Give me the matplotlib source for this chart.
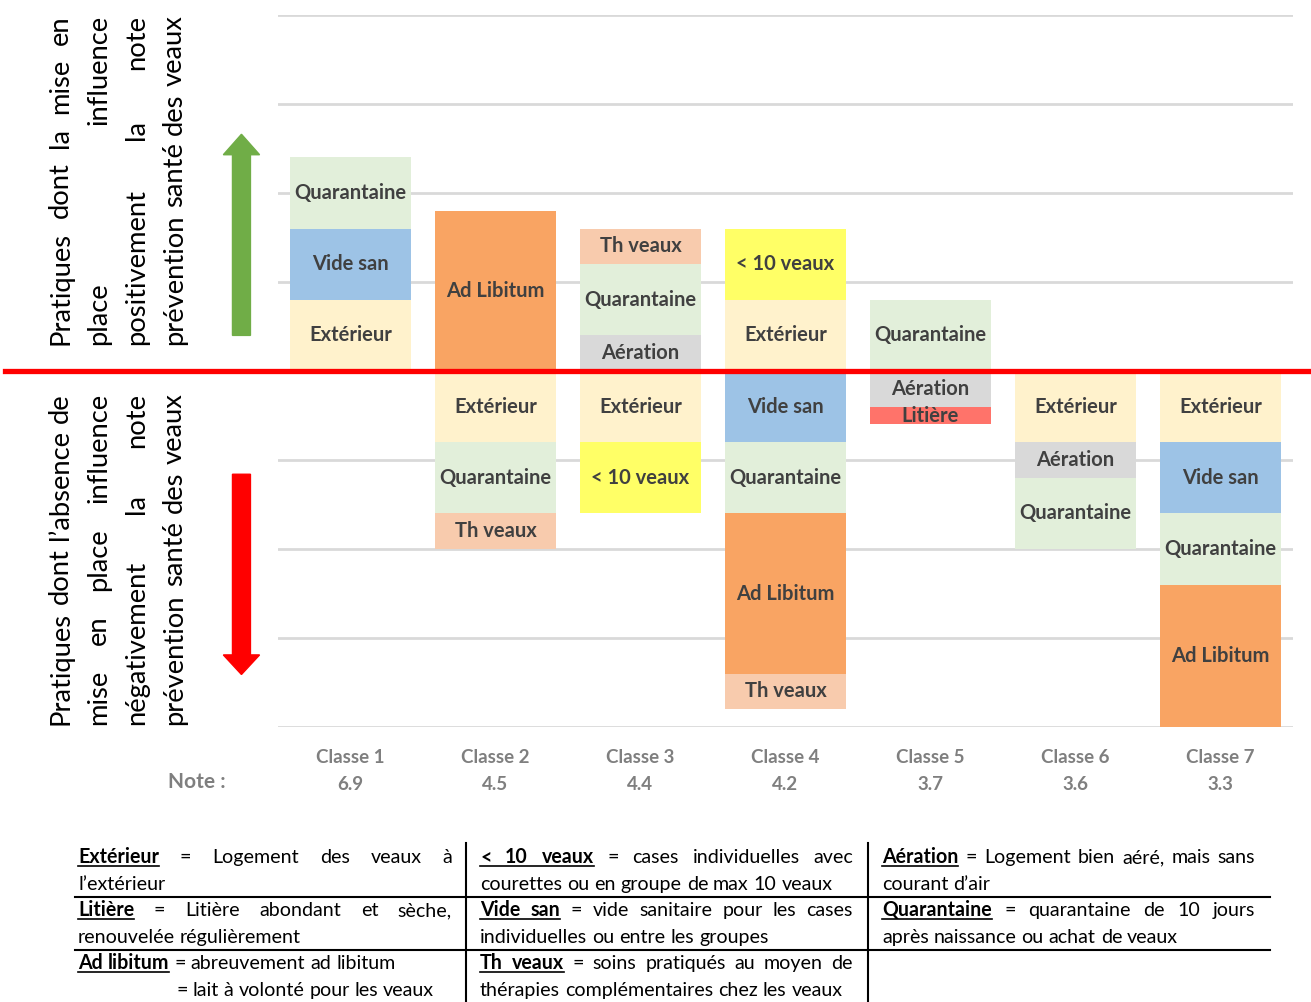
import matplotlib
matplotlib.use('Agg')
import matplotlib.pyplot as plt
from matplotlib.lines import Line2D
from matplotlib.patches import FancyArrow

W, H = 1311, 1002
FONT = 'Lato'

classes = ['Classe 1', 'Classe 2', 'Classe 3', 'Classe 4', 'Classe 5', 'Classe 6', 'Classe 7']
notes = ['6.9', '4.5', '4.4', '4.2', '3.7', '3.6', '3.3']

# practices stacked upward from the red line (positive influence)
above = [
    [('Extérieur', 0.8), ('Vide san', 0.8), ('Quarantaine', 0.8)],
    [('Ad Libitum', 1.8)],
    [('Aération', 0.4), ('Quarantaine', 0.8), ('Th veaux', 0.4)],
    [('Extérieur', 0.8), ('< 10 veaux', 0.8)],
    [('Quarantaine', 0.8)],
    [],
    [],
]
# practices stacked downward from the red line (negative influence)
below = [
    [],
    [('Extérieur', 0.8), ('Quarantaine', 0.8), ('Th veaux', 0.4)],
    [('Extérieur', 0.8), ('< 10 veaux', 0.8)],
    [('Vide san', 0.8), ('Quarantaine', 0.8), ('Ad Libitum', 1.8), ('Th veaux', 0.4)],
    [('Aération', 0.4), ('Litière', 0.2)],
    [('Extérieur', 0.8), ('Aération', 0.4), ('Quarantaine', 0.8)],
    [('Extérieur', 0.8), ('Vide san', 0.8), ('Quarantaine', 0.8), ('Ad Libitum', 1.6)],
]

colors = {
    'Extérieur': '#FFF2CC',
    'Vide san': '#9DC3E6',
    'Quarantaine': '#E2EFDA',
    'Ad Libitum': '#F9A463',
    'Th veaux': '#F8CBAD',
    'Aération': '#D9D9D9',
    '< 10 veaux': '#FFFF66',
    'Litière': '#FF736A',
}

top_text = ['Pratiques dont la mise en', 'place influence', 'positivement la note',
            'prévention santé des veaux']
bottom_text = ['Pratiques dont l’absence de', 'mise en place influence', 'négativement la note',
               'prévention santé des veaux']

# legend table: term, rest of first line, second line, justify first line
legend_cells = [
    ('Extérieur', '= Logement des veaux à', 'l’extérieur', True),
    ('< 10 veaux', '= cases individuelles avec', 'courettes ou en groupe de max 10 veaux', True),
    ('Aération', '= Logement bien aéré, mais sans', 'courant d’air', True),
    ('Litière', '= Litière abondant et sèche,', 'renouvelée régulièrement', True),
    ('Vide san', '= vide sanitaire pour les cases', 'individuelles ou entre les groupes', True),
    ('Quarantaine', '= quarantaine de 10 jours', 'après naissance ou achat de veaux', True),
    ('Ad libitum', '= abreuvement ad libitum', '= lait à volonté pour les veaux', False),
    ('Th veaux', '= soins pratiqués au moyen de', 'thérapies complémentaires chez les veaux', True),
]

fig = plt.figure(figsize=(W / 100, H / 100), dpi=100)
renderer = fig.canvas.get_renderer()


def measure(s, bold, size):
    t = fig.text(0, 0, s, fontsize=size, family=FONT, weight='bold' if bold else 'normal')
    w = t.get_window_extent(renderer).width
    t.remove()
    return w


def put_line(words, start, length, fixed, vertical, justify, size, color='black'):
    widths = [measure(w, b, size) for w, b in words]
    if justify and len(words) > 1:
        gap = (length - sum(widths)) / (len(words) - 1)
    else:
        gap = measure('a a', False, size) - measure('aa', False, size)
    s = start
    spans = []
    for (w, b), wd in zip(words, widths):
        kw = dict(fontsize=size, family=FONT, weight='bold' if b else 'normal', color=color,
                  ha='left', va='baseline')
        if vertical:
            fig.text(fixed / W, 1 - s / H, w, rotation=90, rotation_mode='anchor', **kw)
            s -= wd + gap
        else:
            fig.text(s / W, 1 - fixed / H, w, **kw)
            spans.append((s, s + wd, b))
            s += wd + gap
    return spans


# ---- main chart ----
ax = fig.add_axes([278 / W, 1 - 727 / H, (1293 - 278) / W, (727 - 15) / H])
ax.set_xlim(-0.5, 6.5)
ax.set_ylim(-4, 4)
ax.set_yticks(range(-4, 5))
ax.grid(axis='y', color='#D9D9D9', lw=2)
ax.set_axisbelow(True)
ax.tick_params(axis='y', length=0, labelleft=False)
for sp in ax.spines.values():
    sp.set_visible(False)

bw = 0.83
for i in range(len(classes)):
    b = 0
    for name, h in above[i]:
        ax.bar(i, h, bottom=b, width=bw, color=colors[name], zorder=2)
        ax.text(i, b + h / 2, name, ha='center', va='center', fontsize=14.5, family=FONT,
                weight='bold', color='#404040', zorder=3)
        b += h
    b = 0
    for name, h in below[i]:
        ax.bar(i, -h, bottom=-b, width=bw, color=colors[name], zorder=2)
        ax.text(i, -b - h / 2, name, ha='center', va='center', fontsize=14.5, family=FONT,
                weight='bold', color='#404040', zorder=3)
        b += h

ax.set_xticks(range(len(classes)))
ax.set_xticklabels([c + '\n' + n for c, n in zip(classes, notes)], fontsize=13.5,
                   family=FONT, weight='bold', color='#7F7F7F', linespacing=1.7)
ax.tick_params(axis='x', length=0, pad=16)

ax.axhline(0, xmin=-0.269, xmax=1.015, color='#FF0000', lw=3.8, clip_on=False, zorder=5)

ax.add_patch(FancyArrow(-0.752, 0.40, 0, 2.26, width=0.124, head_width=0.25, head_length=0.23,
                        length_includes_head=True, color='#70AD47', clip_on=False))
ax.add_patch(FancyArrow(-0.752, -1.16, 0, -2.25, width=0.124, head_width=0.25, head_length=0.22,
                        length_includes_head=True, color='#FF0000', clip_on=False))

fig.text(197 / W, 1 - 782 / H, 'Note :', ha='center', va='center', fontsize=15, family=FONT,
         weight='bold', color='#7F7F7F')

# ---- rotated side text, justified ----
side_size = 10 * 330 / measure('prévention santé des veaux', False, 10)
cols = [68, 106, 144, 182]
for lines, y0, y1 in [(top_text, 345, 15), (bottom_text, 725, 393)]:
    for k, line in enumerate(lines):
        words = [(w, False) for w in line.split()]
        put_line(words, y0, y0 - y1, cols[k], True, True, side_size)

# ---- legend table ----
tsize = 10 * 353 / measure('courettes ou en groupe de max 10 veaux', False, 10)
col_x = [(78, 452), (480, 853), (882, 1255)]
row_base = [(863, 890), (916, 943), (969, 996)]
for idx, (term, rest, line2, just) in enumerate(legend_cells):
    r, c = divmod(idx, 3)
    x0, x1 = col_x[c]
    b1, b2 = row_base[r]
    words = [(w, True) for w in term.split()] + [(w, False) for w in rest.split()]
    spans = put_line(words, x0, x1 - x0, b1, False, just, tsize)
    bold = [s for s in spans if s[2]]
    fig.add_artist(Line2D([bold[0][0] / W, bold[-1][1] / W], [1 - (b1 + 3) / H] * 2,
                          color='black', lw=1.2))
    lx = 176 if term == 'Ad libitum' else x0
    put_line([(w, False) for w in line2.split()], lx, x1 - lx, b2, False, False, tsize)

for y in (897, 950):
    fig.add_artist(Line2D([75 / W, 1270 / W], [1 - y / H] * 2, color='black', lw=1.5))
for x in (466, 868):
    fig.add_artist(Line2D([x / W, x / W], [1 - 843 / H, 0], color='black', lw=1.5))

plt.savefig('out.png', dpi=100)
